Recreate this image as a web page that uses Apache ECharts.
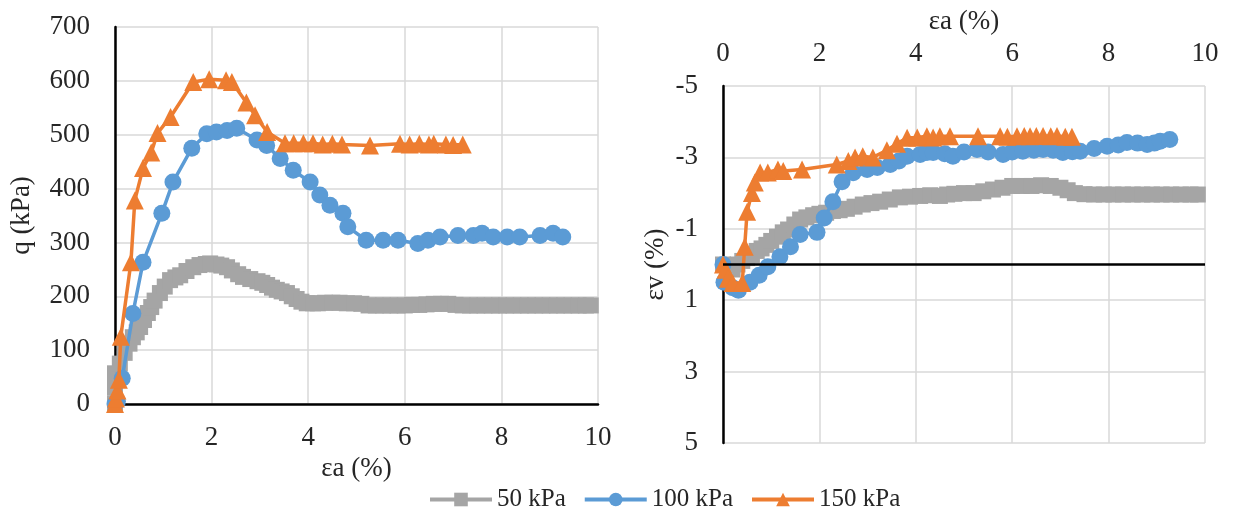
<!DOCTYPE html>
<html>
<head>
<meta charset="utf-8">
<script src="https://cdn.jsdelivr.net/npm/echarts@6/dist/echarts.min.js"></script>
<style>
  html, body { margin: 0; padding: 0; background: #fff; }
  #chart { width: 1236px; height: 514px; }
</style>
</head>
<body>
<div id="chart"></div>
<script>
// [εa %, q kPa]
const q50 = [[0,0],[0,30],[0,57],[0.1,75],[0.2,95],[0.3,112],[0.37,124],[0.45,133],[0.52,143],[0.6,156],[0.68,169],[0.75,180],[0.82,192],[0.93,206],[1.03,218],[1.14,230],[1.25,235],[1.35,239],[1.48,247],[1.62,254],[1.75,258],[1.88,260],[1.97,261],[2.1,259],[2.2,257],[2.32,254],[2.42,248],[2.55,241],[2.65,236],[2.8,232],[2.95,228],[3.05,225],[3.15,221],[3.25,216],[3.35,212],[3.45,209],[3.56,206],[3.66,200],[3.76,195],[3.86,190],[3.97,187],[4.1,187],[4.2,187],[4.35,188],[4.5,188],[4.65,188],[4.8,187],[4.95,187],[5.1,186],[5.25,183],[5.4,183],[5.55,183],[5.7,183],[5.85,183],[6.0,183],[6.15,184],[6.3,184],[6.45,185],[6.6,186],[6.75,186],[6.9,186],[7.05,184],[7.2,183],[7.35,183],[7.5,183],[7.65,183],[7.8,183],[7.95,183],[8.1,183],[8.25,183],[8.4,183],[8.55,183],[8.7,183],[8.85,183],[9.0,183],[9.15,183],[9.3,183],[9.45,183],[9.6,183],[9.75,183],[9.85,183]];
const q100 = [[0,0],[0.05,5],[0.15,48],[0.37,168],[0.58,263],[0.97,354],[1.2,412],[1.59,475],[1.9,502],[2.1,505],[2.32,508],[2.52,512],[2.94,490],[3.14,480],[3.42,456],[3.69,434],[4.04,412],[4.24,388],[4.45,369],[4.72,354],[4.82,329],[5.2,304],[5.55,304],[5.86,304],[6.27,298],[6.48,304],[6.73,310],[7.1,313],[7.42,313],[7.6,317],[7.83,310],[8.12,310],[8.38,310],[8.8,313],[9.07,317],[9.27,310]];
const q150 = [[0,0],[0.02,10],[0.05,25],[0.08,45],[0.12,125],[0.33,263],[0.41,378],[0.58,438],[0.75,467],[0.88,503],[1.15,533],[1.62,598],[1.95,603],[2.3,601],[2.42,598],[2.72,560],[2.9,536],[3.15,505],[3.52,484],[3.7,484],[3.9,484],[4.1,484],[4.3,482],[4.5,483],[4.7,482],[5.28,480],[5.9,483],[6.1,482],[6.3,483],[6.5,482],[6.6,483],[6.85,482],[7.0,481],[7.2,482]];

// [εa %, εv %]
const ev50 = [[0,0],[0.1,0.1],[0.2,0.14],[0.3,0.0],[0.4,-0.1],[0.5,-0.18],[0.6,-0.25],[0.7,-0.38],[0.8,-0.45],[0.9,-0.55],[1.0,-0.66],[1.12,-0.78],[1.24,-0.9],[1.35,-0.98],[1.48,-1.12],[1.6,-1.26],[1.73,-1.32],[1.87,-1.38],[2.0,-1.42],[2.14,-1.45],[2.28,-1.5],[2.42,-1.52],[2.57,-1.56],[2.73,-1.62],[2.9,-1.68],[3.08,-1.72],[3.26,-1.76],[3.46,-1.82],[3.67,-1.88],[3.88,-1.9],[4.09,-1.92],[4.3,-1.94],[4.5,-1.92],[4.65,-1.96],[4.8,-1.98],[5.0,-2.0],[5.2,-2.0],[5.4,-2.05],[5.6,-2.1],[5.8,-2.15],[6.0,-2.2],[6.2,-2.2],[6.4,-2.2],[6.6,-2.22],[6.8,-2.2],[7.0,-2.15],[7.15,-2.08],[7.3,-2.0],[7.5,-1.97],[7.7,-1.96],[7.9,-1.96],[8.1,-1.96],[8.3,-1.96],[8.5,-1.96],[8.7,-1.96],[8.9,-1.96],[9.1,-1.96],[9.3,-1.96],[9.5,-1.96],[9.7,-1.96],[9.85,-1.96]];
const ev100 = [[0,0],[0.02,0.5],[0.2,0.65],[0.32,0.72],[0.56,0.5],[0.75,0.3],[0.93,0.06],[1.18,-0.22],[1.4,-0.5],[1.6,-0.84],[1.95,-0.9],[2.1,-1.3],[2.28,-1.76],[2.47,-2.32],[2.7,-2.57],[2.99,-2.66],[3.2,-2.72],[3.47,-2.8],[3.65,-2.9],[3.82,-3.03],[4.09,-3.08],[4.23,-3.14],[4.36,-3.14],[4.6,-3.1],[4.77,-3.03],[5.0,-3.15],[5.27,-3.22],[5.5,-3.15],[5.81,-3.08],[6.0,-3.15],[6.22,-3.17],[6.45,-3.2],[6.64,-3.22],[6.85,-3.2],[7.05,-3.14],[7.25,-3.16],[7.41,-3.17],[7.7,-3.25],[7.97,-3.31],[8.2,-3.35],[8.38,-3.42],[8.6,-3.4],[8.8,-3.36],[8.95,-3.4],[9.07,-3.45],[9.27,-3.5]];
const ev150 = [[0,0],[0.05,0.15],[0.1,0.4],[0.2,0.52],[0.4,0.52],[0.45,-0.5],[0.5,-1.48],[0.6,-2.0],[0.66,-2.3],[0.77,-2.58],[0.93,-2.58],[1.14,-2.66],[1.25,-2.62],[1.64,-2.66],[2.36,-2.8],[2.6,-2.9],[2.74,-3.0],[2.9,-3.03],[3.11,-3.0],[3.4,-3.2],[3.61,-3.38],[3.82,-3.55],[4.03,-3.56],[4.23,-3.59],[4.36,-3.56],[4.5,-3.59],[4.71,-3.59],[5.29,-3.59],[5.75,-3.59],[5.9,-3.58],[6.1,-3.59],[6.25,-3.6],[6.37,-3.59],[6.5,-3.6],[6.64,-3.6],[6.8,-3.59],[6.93,-3.6],[7.1,-3.58],[7.24,-3.58]];

const names = ["50 kPa", "100 kPa", "150 kPa"];
const colors = ["#A5A5A5", "#5B9BD5", "#ED7D31"];
const symbols = ["rect", "circle", "triangle"];
const sizes = [16, 17, 18];

const font = "Liberation Serif";
const txt = { fontFamily: font, fontSize: 27, color: "#262626" };
const grid = "#d9d9d9";

const chart = echarts.init(document.getElementById("chart"));

function line(i, data, axis) {
  return {
    name: names[i],
    type: "line",
    xAxisIndex: axis,
    yAxisIndex: axis,
    data: data,
    symbol: symbols[i],
    symbolSize: sizes[i],
    showAllSymbol: true,
    animation: false,
    lineStyle: { color: colors[i], width: 3.5 },
    itemStyle: { color: colors[i] },
    z: 2 + i
  };
}

const option = {
  backgroundColor: "#fff",
  textStyle: { fontFamily: font },
  legend: {
    top: 482,
    left: 423,
    itemWidth: 62,
    itemHeight: 17,
    itemGap: 17,
    lineStyle: { width: 4 },
    textStyle: { fontFamily: font, fontSize: 25, color: "#262626" },
    data: names
  },
  grid: [
    { left: 115, top: 27, width: 483, height: 377 },
    { left: 723, top: 86, width: 482, height: 357 }
  ],
  xAxis: [
    {
      gridIndex: 0, type: "value", min: 0, max: 10, interval: 2,
      name: "εa (%)", nameLocation: "middle", nameGap: 47, nameTextStyle: txt,
      axisLine: { lineStyle: { color: "#000", width: 2.5 } },
      axisTick: { show: false },
      axisLabel: Object.assign({ margin: 20 }, txt),
      splitLine: { lineStyle: { color: grid, width: 1.5 } }
    },
    {
      gridIndex: 1, type: "value", min: 0, max: 10, interval: 2, position: "top",
      name: "εa (%)", nameLocation: "middle", nameGap: 50, nameTextStyle: txt,
      axisLine: { show: false, onZero: false },
      axisTick: { show: false },
      axisLabel: Object.assign({ margin: 19 }, txt),
      splitLine: { lineStyle: { color: grid, width: 1.5 } }
    }
  ],
  yAxis: [
    {
      gridIndex: 0, type: "value", min: 0, max: 700, interval: 100,
      name: "q (kPa)", nameLocation: "middle", nameGap: 80, nameTextStyle: txt,
      axisLine: { lineStyle: { color: "#000", width: 2.5 } },
      axisTick: { show: false },
      axisLabel: Object.assign({ margin: 25 }, txt),
      splitLine: { lineStyle: { color: grid, width: 1.5 } }
    },
    {
      gridIndex: 1, type: "value", min: -5, max: 5, interval: 2, inverse: true,
      name: "εv (%)", nameLocation: "middle", nameGap: 54, nameTextStyle: txt,
      axisLine: { onZero: false, lineStyle: { color: "#000", width: 2.5 } },
      axisTick: { show: false },
      axisLabel: Object.assign({ margin: 25 }, txt),
      splitLine: { lineStyle: { color: grid, width: 1.5 } }
    }
  ],
  series: [
    line(0, q50, 0), line(1, q100, 0), line(2, q150, 0),
    Object.assign(line(0, ev50, 1), {
      markLine: {
        silent: true, symbol: "none", animation: false, label: { show: false },
        lineStyle: { color: "#000", width: 2.5, type: "solid" },
        data: [{ yAxis: 0 }]
      }
    }),
    line(1, ev100, 1), line(2, ev150, 1)
  ]
};

chart.setOption(option);
window.addEventListener("resize", () => chart.resize());
</script>
</body>
</html>
